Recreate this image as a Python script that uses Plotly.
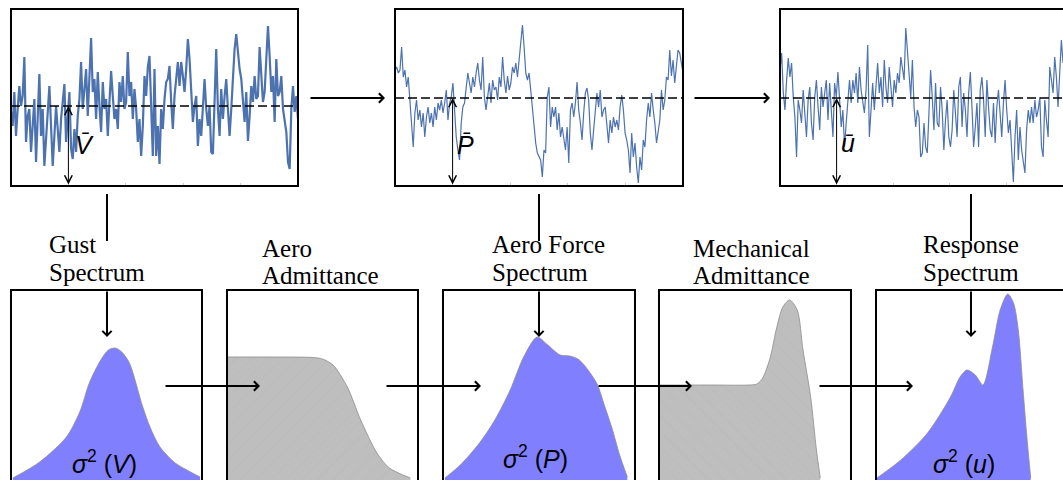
import plotly.graph_objects as go

W, H = 1063, 480

# ---------------- time histories (signal values, arbitrary units) ----------------
gust_velocity = [74, 60, 94, 50, 77, 100, 80, 90, 129, 44,
                 70, 77, 34, 64, 87, 24, 67, 112, 50, 77,
                 20, 50, 77, 100, 60, 20, 50, 80, 57, 34,
                 67, 84, 102, 44, 74, 94, 37, 27, 57, 34,
                 70, 87, 124, 77, 97, 117, 70, 110, 148, 94,
                 107, 67, 114, 80, 54, 104, 77, 87, 50, 84,
                 115, 90, 67, 77, 57, 104, 84, 110, 77, 84,
                 134, 90, 104, 67, 97, 77, 44, 67, 30, 60,
                 110, 90, 119, 130, 67, 30, 117,
                 30, 60, 22, 77, 57, 87, 104, 107, 120, 84,
                 57, 90, 110, 124, 100, 124, 110, 94, 117, 147,
                 127, 94, 64, 80, 90, 40, 67, 50, 84, 107,
                 77, 60, 80, 34, 32, 77, 137, 77, 50, 97,
                 67, 90, 107, 77, 50, 77, 110, 137, 152, 134,
                 117, 107, 84, 64, 94, 45, 70, 100, 84, 110,
                 87, 90, 139, 110, 84, 94, 134, 160, 130, 94,
                 110, 64, 127, 90, 94, 110, 77, 64, 54, 24,
                 17, 77, 100, 74, 90, 67]
gust_mean = 80

aero_force = [116, 119, 113, 116, 139, 109, 116, 99, 109, 86,
              59, 39, 73, 86, 66, 76, 59, 73, 49, 69,
              79, 63, 73, 59, 79, 66, 83, 76, 86, 73,
              83, 96, 66, 83, 89, 103, 76, 49, 36, 26,
              63, 79, 83, 99, 113, 103, 93, 109, 99, 113,
              123, 106, 96, 129, 89, 76, 93, 103, 83, 106,
              96, 99, 86, 109, 99, 129, 106, 93, 110, 96,
              103, 119, 113, 123, 109, 126, 139, 161, 139, 113,
              106, 113, 96, 79, 59, 43, 33, 29,
              26, 9, 36, 33, 89, 99, 59, 79, 69, 79,
              56, 73, 49, 59, 46, 36, 59, 23, 76, 83,
              69, 83, 104, 76, 63, 46, 73, 93, 98, 86,
              53, 36, 56, 76, 93, 79, 96, 69, 76, 79,
              59, 43, 66, 53, 69, 59, 66, 56, 79, 91,
              76, 53, 46, 36, 13, 53, 29, 43, 19, 3,
              29, 16, 46, 39, 66, 83, 69, 93, 76, 63,
              43, 56, 66, 96, 76, 86, 109, 106, 136, 110,
              126, 103, 123, 136, 133, 123, 113]
force_mean = 88

response_disp = [116, 133, 93, 76, 106, 128, 109, 123, 89, 69,
                 29, 86, 76, 63, 96, 73, 49, 86, 99, 63,
                 46, 89, 106, 79, 56, 99, 79, 93, 106, 66,
                 103, 76, 49, 103, 89, 114, 79, 59, 76, 39,
                 63, 89, 106, 83, 106, 93, 113, 83, 119, 96,
                 83, 73, 96, 141, 49, 83, 103, 76, 96, 123,
                 93, 109, 79, 126, 99, 83, 119, 99, 79, 106,
                 93, 113, 103, 129, 119, 106, 158, 133, 109, 89,
                 126, 79, 59, 76, 69, 29,
                 33, 63, 39, 33, 73, 116, 89, 56, 103, 63,
                 59, 99, 76, 36, 66, 86, 49, 39, 56, 96,
                 73, 49, 99, 109, 59, 93, 76, 49, 93, 114,
                 79, 39, 59, 83, 39, 96, 109, 86, 49, 106,
                 79, 56, 49, 83, 43, 79, 96, 69, 49, 83,
                 106, 76, 53, 66, 29, 4, 49, 76, 26, 59,
                 36, 23, 13, 56, 76, 63, 79, 63, 86, 69,
                 76, 89, 39, 29, 86, 66, 49, 119, 106, 93,
                 129, 109, 79, 116, 146, 123]
response_mean = 88
ts_range = [0, 177]

# ---------------- spectra / admittances ----------------
gust_freq = [0.01, 0.15, 0.29, 0.36, 0.41, 0.47, 0.51, 0.545, 0.58, 0.62, 0.69, 0.73, 0.78, 0.86, 0.94, 0.99]
gust_psd = [0.02, 0.18, 0.43, 0.68, 0.97, 1.20, 1.30, 1.32, 1.28, 1.17, 0.73, 0.52, 0.33, 0.17, 0.08, 0.03]

aero_freq = [0.0, 0.25, 0.45, 0.50, 0.555, 0.63, 0.70, 0.785, 0.85, 0.96]
aero_adm = [1.23, 1.23, 1.225, 1.21, 1.15, 0.93, 0.60, 0.27, 0.12, 0.02]

force_freq = [0.01, 0.09, 0.19, 0.27, 0.35, 0.42, 0.49, 0.54, 0.61, 0.66, 0.71, 0.80, 0.84, 0.88, 0.92, 0.96]
force_psd = [0.02, 0.15, 0.37, 0.60, 0.90, 1.23, 1.43, 1.36, 1.25, 1.24, 1.20, 0.97, 0.75, 0.52, 0.25, 0.03]

mech_freq = [0.0, 0.25, 0.47, 0.51, 0.54, 0.58, 0.61, 0.645, 0.68, 0.72, 0.75, 0.79, 0.82, 0.84]
mech_adm = [0.95, 0.95, 0.95, 0.96, 1.02, 1.23, 1.50, 1.73, 1.80, 1.70, 1.30, 0.83, 0.30, 0.02]

resp_freq = [0.005, 0.13, 0.27, 0.39, 0.44, 0.476, 0.52, 0.56, 0.61, 0.65, 0.69, 0.72, 0.745, 0.77, 0.79, 0.81]
resp_psd = [0.02, 0.20, 0.47, 0.83, 1.03, 1.10, 1.05, 0.95, 1.33, 1.70, 1.86, 1.77, 1.50, 0.90, 0.43, 0.02]
spec_range = [0, 1.9]

block_titles = [("Gust", "Spectrum"), ("Aero", "Admittance"), ("Aero Force", "Spectrum"),
                ("Mechanical", "Admittance"), ("Response", "Spectrum")]
variance_labels = ["<i>σ</i><sup>2</sup> (<i>V</i>)", "<i>σ</i><sup>2</sup> (<i>P</i>)",
                   "<i>σ</i><sup>2</sup> (<i>u</i>)"]
mean_labels = ["<i>V̄</i>", "<i>P̄</i>", "<i>ū</i>"]

# ---------------- layout geometry (pixels) ----------------
def px(x):
    return x / W

def py(y):
    return 1 - y / H

BLUE = "#4C72B0"
FILL_BLUE = "#8080FF"
GREY = "#BEBEBE"

fig = go.Figure()
layout_axes = {}

# top row panels: (x0, x1) pixels, y from 9 to 186
top_boxes = [(11, 298), (395, 683), (780, 1068)]
series = [(gust_velocity, gust_mean, 2.2), (aero_force, force_mean, 1.2), (response_disp, response_mean, 1.2)]
for i, ((x0, x1), (vals, mean, lw)) in enumerate(zip(top_boxes, series)):
    k = i + 1
    xa = "x" if k == 1 else f"x{k}"
    ya = "y" if k == 1 else f"y{k}"
    n = len(vals)
    fig.add_trace(go.Scatter(x=list(range(n)), y=vals, mode="lines",
                             line=dict(color=BLUE, width=lw), xaxis=xa, yaxis=ya,
                             hoverinfo="skip"))
    dom_x1 = min(px(x1), 1.0)
    xr = [0, n - 1]
    layout_axes["xaxis" if k == 1 else f"xaxis{k}"] = dict(
        domain=[px(x0), dom_x1], range=xr, anchor=ya, showgrid=False, zeroline=False,
        showline=False, showticklabels=False, ticks="inside", ticklen=3, tickcolor="#c8c8c8",
        tickvals=[(n - 1) * j / 5 for j in range(1, 5)], fixedrange=True)
    layout_axes["yaxis" if k == 1 else f"yaxis{k}"] = dict(
        domain=[py(186), py(9)], range=ts_range, anchor=xa, visible=False, fixedrange=True)
    # dashed mean line
    fig.add_shape(type="line", xref=f"{xa} domain", yref=ya, x0=0, x1=1, y0=mean, y1=mean,
                  line=dict(color="black", width=1.6, dash="9px,4px"), layer="above")
    # mean arrow
    fig.add_annotation(xref=f"{xa} domain", yref=ya, x=0.2, y=mean,
                       axref=f"{xa} domain", ayref=ya, ax=0.2, ay=ts_range[0],
                       showarrow=True, arrowhead=5, arrowsize=1.5, arrowwidth=1,
                       arrowside="end+start", startarrowhead=5, startarrowsize=1.5,
                       arrowcolor="black", standoff=0, startstandoff=0, text="")
    # border
    fig.add_shape(type="rect", xref="paper", yref="paper", x0=px(x0), x1=px(x1),
                  y0=py(186), y1=py(9), line=dict(color="black", width=2), layer="above")

mean_pos = [(84, 145), (465, 145), (848, 143)]
for txt, (x, y) in zip(mean_labels, mean_pos):
    fig.add_annotation(xref="paper", yref="paper", x=px(x), y=py(y), text=txt, showarrow=False,
                       font=dict(family="Liberation Sans", size=25, color="black"),
                       xanchor="center", yanchor="middle")

# bottom row panels
bot_boxes = [(11, 202), (227, 418), (443, 635), (659, 851), (876, 1067)]
spectra = [(gust_freq, gust_psd, "blue", None), (aero_freq, aero_adm, "grey", "/"),
           (force_freq, force_psd, "blue", None), (mech_freq, mech_adm, "grey", "\\"),
           (resp_freq, resp_psd, "blue", None)]
for i, ((x0, x1), (fx, fy, kind, hatch)) in enumerate(zip(bot_boxes, spectra)):
    k = i + 4
    xa, ya = f"x{k}", f"y{k}"
    kw = {}
    if kind == "blue":
        kw["fillcolor"] = FILL_BLUE
    else:
        kw["fillcolor"] = GREY
        kw["fillpattern"] = dict(shape=hatch, fgcolor="#B2B2B2", bgcolor=GREY, size=11, solidity=0.08)
    fig.add_trace(go.Scatter(x=fx, y=fy, mode="lines", fill="tozeroy",
                             line=dict(color="#8C8C8C", width=0.8, shape="spline", smoothing=0.8),
                             xaxis=xa, yaxis=ya, hoverinfo="skip", **kw))
    width_px = x1 - x0
    dom_x1 = min(px(x1), 1.0)
    xr = [0, (dom_x1 * W - x0) / width_px]
    layout_axes[f"xaxis{k}"] = dict(domain=[px(x0), dom_x1], range=xr, anchor=ya,
                                    visible=False, fixedrange=True)
    layout_axes[f"yaxis{k}"] = dict(domain=[0, py(290)], range=spec_range, anchor=xa,
                                    visible=False, fixedrange=True)
    fig.add_shape(type="rect", xref="paper", yref="paper", x0=px(x0), x1=px(x1),
                  y0=py(495), y1=py(290), line=dict(color="black", width=2), layer="above")

var_pos = [(104, 462), (535, 457), (964, 462)]
for txt, (x, y) in zip(variance_labels, var_pos):
    fig.add_annotation(xref="paper", yref="paper", x=px(x), y=py(y), text=txt, showarrow=False,
                       font=dict(family="Liberation Sans", size=25, color="black"),
                       xanchor="center", yanchor="middle")

# titles
title_pos = [(47, 245), (260, 248), (490, 245), (691, 248), (921, 245)]
for (l1, l2), (x, y) in zip(block_titles, title_pos):
    for j, t in enumerate((l1, l2)):
        fig.add_annotation(xref="paper", yref="paper", x=px(x), y=py(y + 27 * j), text=t,
                           showarrow=False, xanchor="left", yanchor="middle",
                           font=dict(family="Liberation Serif", size=25, color="black"))

# connector lines
for x in (107, 539, 971):
    fig.add_shape(type="line", xref="paper", yref="paper", x0=px(x), x1=px(x),
                  y0=py(194), y1=py(241), line=dict(color="black", width=2))


def arrow(x0, y0, x1, y1):
    fig.add_annotation(xref="paper", yref="paper", x=px(x1), y=py(y1), ax=x0 - x1, ay=y0 - y1,
                       showarrow=True, arrowhead=4, arrowsize=0.9, arrowwidth=2,
                       arrowcolor="black", standoff=0, text="")


arrow(309, 98, 385, 98)
arrow(693, 98, 770, 98)
for x in (107, 539, 971):
    arrow(x, 290, x, 337)
for x0, x1 in [(164, 260), (385, 481), (597, 692), (818, 913)]:
    arrow(x0, 386, x1, 386)

fig.update_layout(width=W, height=H, margin=dict(l=0, r=0, t=0, b=0),
                  paper_bgcolor="white", plot_bgcolor="rgba(0,0,0,0)", showlegend=False,
                  **layout_axes)

fig.write_html("out.html", config={"displayModeBar": False},
               post_script="document.body.style.margin='0px';document.body.style.padding='0px';"
                           "document.body.style.overflow='hidden';")
